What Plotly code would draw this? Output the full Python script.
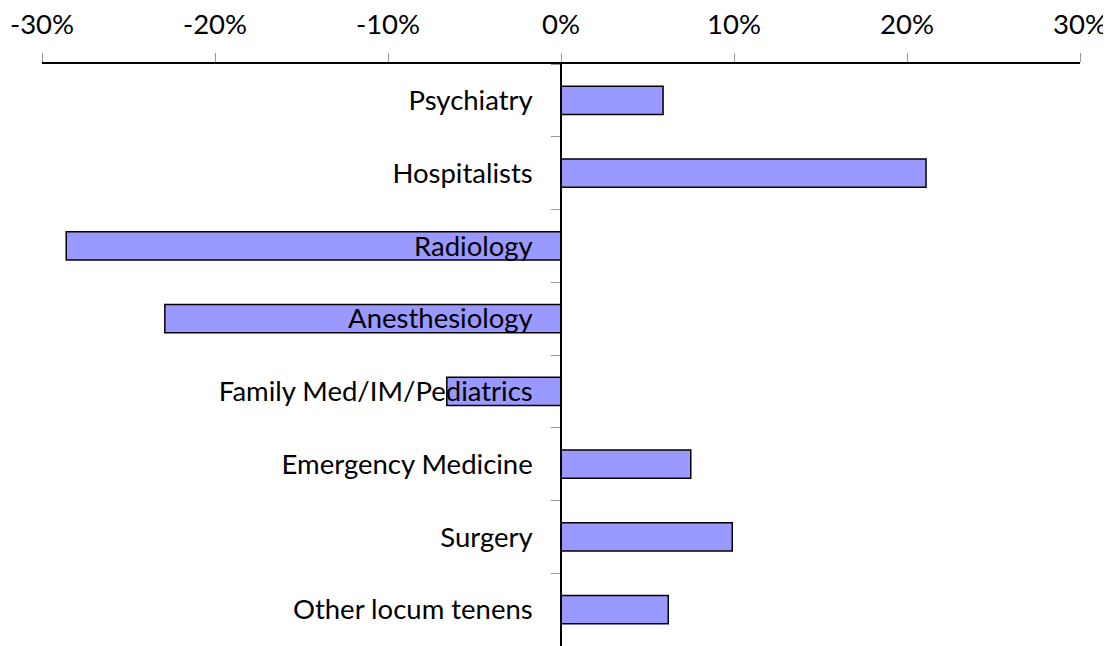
import plotly.graph_objects as go

categories = ["Psychiatry", "Hospitalists", "Radiology", "Anesthesiology",
              "Family Med/IM/Pediatrics", "Emergency Medicine", "Surgery",
              "Other locum tenens"]
values = [5.9, 21.1, -28.6, -22.9, -6.6, 7.5, 9.9, 6.2]
tick_vals = [-30, -20, -10, 0, 10, 20, 30]
tick_text = ["-30%", "-20%", "-10%", "0%", "10%", "20%", "30%"]

FONT = "Lato, Liberation Sans, sans-serif"
FS = 27.5

fig = go.Figure(go.Bar(
    x=values, y=categories, orientation="h",
    marker=dict(color="#9999FF", line=dict(color="black", width=1.5)),
    width=0.39,
))

# page body has an 8px default margin; compensate so the plot lands in place
fig.update_layout(
    width=1103, height=638,
    margin=dict(l=34, r=31, t=56, b=0, pad=0),
    paper_bgcolor="white", plot_bgcolor="white",
    showlegend=False,
    font=dict(family=FONT, size=FS, color="black"),
    xaxis=dict(
        side="top", range=[-30, 30], tickvals=tick_vals, ticktext=tick_text,
        ticks="outside", ticklen=9, tickcolor="#999999", tickwidth=1,
        showline=True, linecolor="black", linewidth=1.5,
        showgrid=False, zeroline=False, automargin=False,
        ticklabelstandoff=8,
        tickfont=dict(family=FONT, size=FS, color="black"),
    ),
    yaxis=dict(
        categoryorder="array", categoryarray=categories, autorange="reversed",
        anchor="free", position=0.5,
        ticks="outside", tickson="boundaries", ticklen=9, tickcolor="#999999",
        showline=True, linecolor="black", linewidth=1.5,
        showgrid=False, zeroline=False, ticklabelstandoff=22, automargin=False,
        tickfont=dict(family=FONT, size=FS, color="black"),
        layer="above traces",
    ),
)

fig.write_html("out.html")
